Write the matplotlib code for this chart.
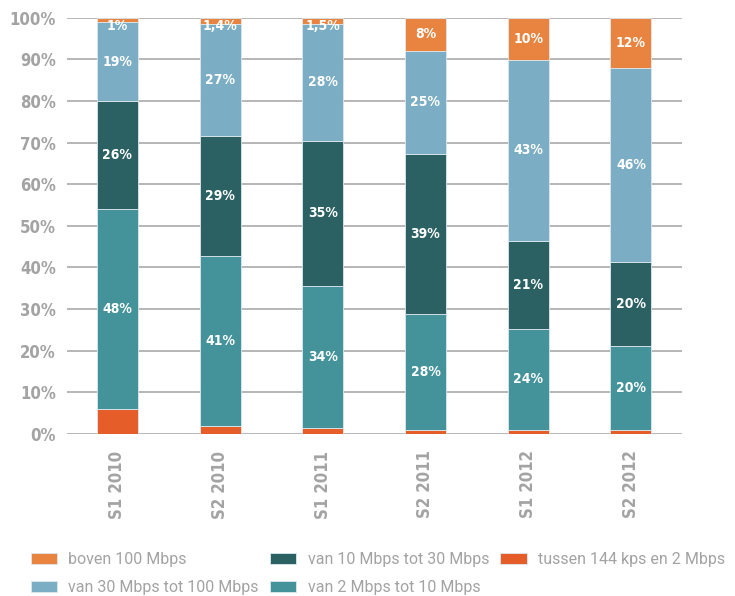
import matplotlib
matplotlib.use("Agg")
import matplotlib.pyplot as plt
import numpy as np

periods = ["S1 2010", "S2 2010", "S1 2011", "S2 2011", "S1 2012", "S2 2012"]

tussen_144k_2m = [6, 2, 1.5, 1, 1, 1]
van_2_10 = [48, 41, 34, 28, 24, 20]
van_10_30 = [26, 29, 35, 39, 21, 20]
van_30_100 = [19, 27, 28, 25, 43, 46]
boven_100 = [1, 1.4, 1.5, 8, 10, 12]

series = [
    ("tussen 144 kps en 2 Mbps", tussen_144k_2m, "#e55e2a", False),
    ("van 2 Mbps tot 10 Mbps", van_2_10, "#44939b", True),
    ("van 10 Mbps tot 30 Mbps", van_10_30, "#2b6163", True),
    ("van 30 Mbps tot 100 Mbps", van_30_100, "#7baec4", True),
    ("boven 100 Mbps", boven_100, "#e8843f", True),
]

plt.rcParams["font.family"] = ["Roboto", "DejaVu Sans"]
grey = "#a3a3a3"
bold = dict(family=["DejaVu Sans"], fontweight="bold", fontstretch="condensed")

fig = plt.figure(figsize=(7.35, 5.96), dpi=100)
ax = fig.add_axes([0.0912, 0.272, 0.837, 0.698])

x = np.arange(len(periods))
width = 0.4
# each column is a share of 100%
totals = np.sum([s[1] for s in series], axis=0)
bottom = np.zeros(len(periods))
handles = {}
for name, vals, col, show in series:
    vals = np.array(vals, dtype=float)
    h = vals * 100.0 / totals
    rects = ax.bar(x, h, width, bottom=bottom, color=col, edgecolor="#dde8ee",
                   linewidth=0.6, zorder=3)
    handles[name] = rects
    if show:
        for xi, b, hh, v in zip(x, bottom, h, vals):
            y = b + hh / 2 if hh > 3 else b + hh - 2
            ax.text(xi, y, ("%g%%" % v).replace(".", ","), ha="center", va="center",
                    color="white", fontsize=10, zorder=4, **bold)
    bottom += h

ax.set_ylim(0, 100)
ax.set_xlim(-0.49, 5.5)
ax.set_yticks(np.arange(0, 101, 10))
ax.set_yticklabels(["%d%%" % v for v in range(0, 101, 10)], color=grey,
                   fontsize=12, **bold)
ax.set_xticks(x)
ax.set_xticklabels(periods, rotation=90, color=grey, fontsize=12, **bold)
ax.tick_params(length=0, pad=8)
ax.tick_params(axis="x", pad=12)
ax.yaxis.grid(True, color="#aaaaaa", linewidth=1.2, zorder=0)
for s in ax.spines.values():
    s.set_visible(False)

order = ["boven 100 Mbps", "van 30 Mbps tot 100 Mbps", "van 10 Mbps tot 30 Mbps",
         "van 2 Mbps tot 10 Mbps", "tussen 144 kps en 2 Mbps"]
leg = fig.legend([handles[n] for n in order], order, ncol=3, loc="lower left",
                 bbox_to_anchor=(0.042, 0.002), frameon=False, fontsize=11.5,
                 handlelength=1.65, handleheight=0.7, columnspacing=0.7,
                 labelspacing=0.8, handletextpad=0.7, borderpad=0,
                 borderaxespad=0)
for t in leg.get_texts():
    t.set_color(grey)

fig.savefig("out.png", dpi=100)
